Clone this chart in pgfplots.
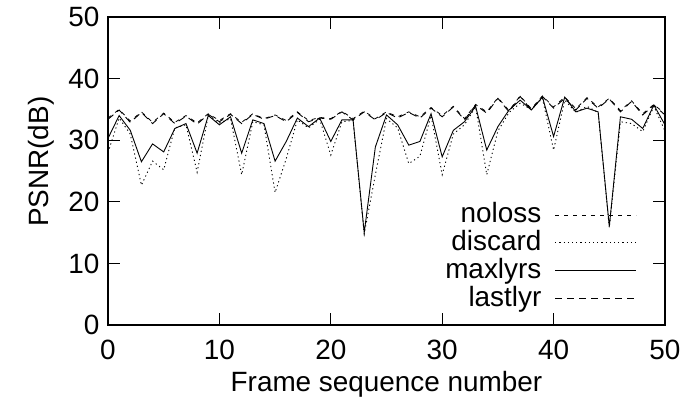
\documentclass[border=0pt]{standalone}
\usepackage{fontspec}
\setmainfont{Liberation Sans}
\usepackage{pgfplots}
\pgfplotsset{compat=1.18}

% PSNR per frame
\pgfplotstableread{
x noloss discard maxlyrs lastlyr
0  33.6 28.0 30.3 33.4
1  35.0 33.6 34.0 34.9
2  33.1 31.0 31.6 32.9
3  34.6 22.7 26.5 34.5
4  32.9 26.6 29.4 32.7
5  34.4 25.2 28.1 34.3
6  32.9 32.0 31.9 32.7
7  34.0 32.5 32.7 33.9
8  32.8 24.8 27.9 32.6
9  34.3 34.0 34.0 34.2
10 33.2 32.8 32.5 33.0
11 34.3 33.5 33.8 34.2
12 32.9 24.4 27.9 32.7
13 34.3 33.0 33.3 34.2
14 33.5 32.5 32.7 33.4
15 34.1 21.5 26.6 34.0
16 33.2 27.0 29.8 33.0
17 34.6 33.3 33.6 34.5
18 33.2 32.0 32.2 33.0
19 33.7 33.4 33.6 33.6
20 33.5 27.6 29.8 33.4
21 34.7 33.0 33.3 34.6
22 33.5 33.2 33.3 33.3
23 34.7 14.8 15.0 34.6
24 33.5 24.4 28.9 33.3
25 34.6 33.5 34.1 34.5
26 33.8 32.0 32.5 33.6
27 34.6 26.2 29.2 34.5
28 33.8 27.4 29.8 33.6
29 35.3 34.0 34.3 35.2
30 34.0 24.4 27.3 33.8
31 35.5 31.0 31.6 35.4
32 33.5 32.5 33.0 33.3
33 35.8 35.4 35.5 35.7
34 34.6 24.4 28.4 34.4
35 36.9 31.5 32.2 36.8
36 34.8 34.5 34.9 34.6
37 37.2 36.0 36.5 37.1
38 35.1 35.0 34.9 34.9
39 37.2 36.8 37.0 37.1
40 35.4 28.4 30.6 35.2
41 37.0 36.5 37.0 36.8
42 35.1 34.5 34.6 34.9
43 36.9 35.5 35.2 36.8
44 35.4 34.5 34.6 35.2
45 36.8 15.8 16.0 36.7
46 34.8 33.0 33.8 34.6
47 36.4 32.7 33.4 36.3
48 34.3 31.4 31.9 34.1
49 35.8 35.5 35.7 35.7
50 34.3 31.5 32.5 34.1
}\psnr

\begin{document}
\begin{tikzpicture}[font=\fontsize{28}{33}\selectfont]
\path[use as bounding box] (-108bp,-92bp) rectangle (575bp,325bp);
\begin{axis}[
    scale only axis,
    width=557bp,
    height=308bp,
    xmin=0, xmax=50,
    ymin=0, ymax=50,
    xtick={0,10,...,50},
    ytick={0,10,...,50},
    tick align=inside,
    major tick length=12bp,
    axis line style={line width=1.4bp},
    every tick/.style={black, line width=1.2bp},
    /pgf/number format/assume math mode=true,
    yticklabel style={xshift=-5bp},
    xticklabel style={yshift=-12bp},
    xlabel={Frame sequence number},
    ylabel={PSNR(dB)},
    xlabel style={yshift=-4bp},
    ylabel style={at={(ticklabel cs:0.53)}, yshift=7bp},
    legend plot pos=right,
    legend cell align=right,
    legend style={at={(0.955,0.41)}, anchor=north east, draw=none, fill=none,
        row sep=0pt, column sep=12bp,
        nodes={inner sep=1.5bp, text height=20bp, text depth=5bp}},
    legend image code/.code={\draw[#1] (0bp,0bp) -- (81bp,0bp);},
]
\addplot[black, line width=0.8bp, dash pattern=on 4bp off 5bp] table[x=x, y=noloss] {\psnr};
\addlegendentry{noloss}
\addplot[black, line width=0.9bp, dash pattern=on 1.2bp off 3bp] table[x=x, y=discard] {\psnr};
\addlegendentry{discard}
\addplot[black, line width=0.9bp] table[x=x, y=maxlyrs] {\psnr};
\addlegendentry{maxlyrs}
\addplot[black, line width=0.9bp, dash pattern=on 7bp off 5bp] table[x=x, y=lastlyr] {\psnr};
\addlegendentry{lastlyr}
\end{axis}
\end{tikzpicture}
\end{document}
